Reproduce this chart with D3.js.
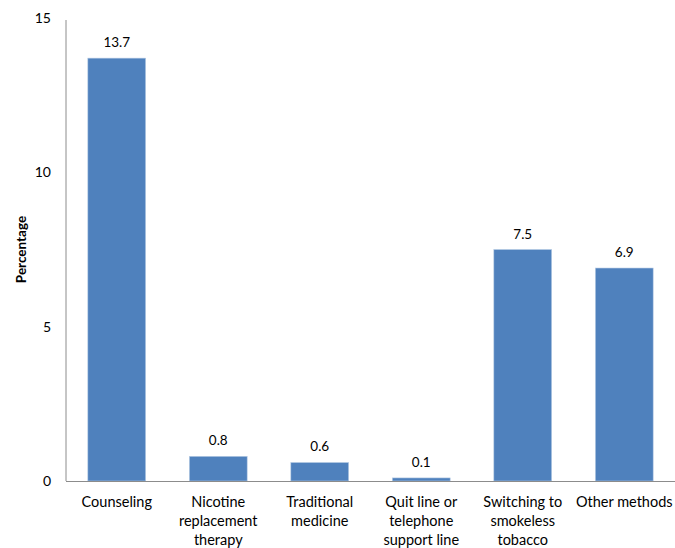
<!DOCTYPE html>
<html>
<head>
<meta charset="UTF-8">
<style>
  body { margin: 0; background: #fff; }
  text { font-family: Lato, "Open Sans", sans-serif; fill: #000; }
</style>
</head>
<body>
<script src="https://d3js.org/d3.v7.min.js"></script>
<script>
  const categories = [
    ["Counseling"],
    ["Nicotine", "replacement", "therapy"],
    ["Traditional", "medicine"],
    ["Quit line or", "telephone", "support line"],
    ["Switching to", "smokeless", "tobacco"],
    ["Other methods"]
  ];
  const values = [13.7, 0.8, 0.6, 0.1, 7.5, 6.9];
  const yTicks = [0, 5, 10, 15];

  const width = 675, height = 548;
  const margin = {left: 66, right: 0, top: 18, bottom: 67};

  const svg = d3.select("body").append("svg")
    .attr("width", width).attr("height", height);

  const x = d3.scaleBand()
    .domain(d3.range(values.length))
    .range([margin.left, width - margin.right])
    .paddingInner(0.43)
    .paddingOuter(0.215);

  const y = d3.scaleLinear()
    .domain([0, 15])
    .range([height - margin.bottom, margin.top]);

  // bars
  svg.selectAll("rect.bar")
    .data(values)
    .enter().append("rect")
    .attr("class", "bar")
    .attr("x", (d, i) => x(i))
    .attr("y", d => y(d))
    .attr("width", x.bandwidth())
    .attr("height", d => y(0) - y(d))
    .attr("fill", "#4f81bd")
    .attr("stroke", "#b9cde5")
    .attr("stroke-width", 0.6);

  // value labels
  svg.selectAll("text.val")
    .data(values)
    .enter().append("text")
    .attr("class", "val")
    .attr("x", (d, i) => x(i) + x.bandwidth() / 2)
    .attr("y", d => y(d) - 11)
    .attr("text-anchor", "middle")
    .style("font-size", "13.5px")
    .text(d => d);

  // axes lines
  svg.append("line")
    .attr("x1", margin.left).attr("x2", margin.left)
    .attr("y1", y(15) + 2).attr("y2", y(0))
    .attr("stroke", "#8c8c8c").attr("stroke-width", 1);
  svg.append("line")
    .attr("x1", margin.left).attr("x2", width)
    .attr("y1", y(0) + 0.5).attr("y2", y(0) + 0.5)
    .attr("stroke", "#8c8c8c").attr("stroke-width", 1);

  // y tick labels
  svg.selectAll("text.ytick")
    .data(yTicks)
    .enter().append("text")
    .attr("class", "ytick")
    .attr("x", 51)
    .attr("y", d => y(d))
    .attr("dy", "0.35em")
    .attr("text-anchor", "end")
    .style("font-size", "14px")
    .text(d => d);

  // category labels
  const cat = svg.selectAll("text.cat")
    .data(categories)
    .enter().append("text")
    .attr("class", "cat")
    .attr("text-anchor", "middle")
    .style("font-size", "14.5px");
  cat.selectAll("tspan")
    .data((d, i) => d.map(s => ({s, i})))
    .enter().append("tspan")
    .attr("x", d => x(d.i) + x.bandwidth() / 2)
    .attr("y", (d, j) => 507 + j * 19)
    .text(d => d.s);

  // y axis title
  svg.append("text")
    .attr("transform", "translate(26," + (y(7.5)) + ") rotate(-90)")
    .attr("text-anchor", "middle")
    .style("font-size", "13.5px")
    .style("font-weight", "bold")
    .text("Percentage");
</script>
</body>
</html>
